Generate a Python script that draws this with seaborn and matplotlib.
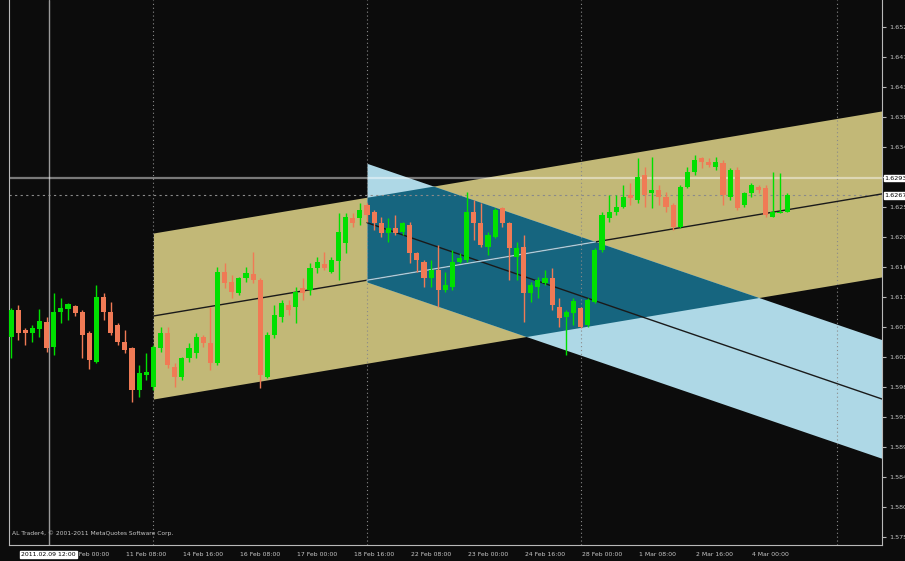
import numpy as np
import pandas as pd
import seaborn as sns
import matplotlib.pyplot as plt
from matplotlib import transforms

# --- dane świec H4 ---
opens = [1.6055, 1.6095, 1.6065, 1.6060, 1.6066, 1.6077, 1.6039, 1.6092, 1.6096, 1.6101,
         1.6092, 1.6060, 1.6017, 1.6114, 1.6092, 1.6072, 1.6047, 1.6038, 1.5975, 1.5997,
         1.5980, 1.6038, 1.6060, 1.6010, 1.5994, 1.6023, 1.6030, 1.6054, 1.6045, 1.6015,
         1.6152, 1.6137, 1.6120, 1.6143, 1.6149, 1.6140, 1.5994, 1.6057, 1.6084, 1.6102,
         1.6099, 1.6128, 1.6125, 1.6158, 1.6164, 1.6152, 1.6168, 1.6195, 1.6233, 1.6233,
         1.6252, 1.6242, 1.6225, 1.6210, 1.6218, 1.6212, 1.6222, 1.6180, 1.6167, 1.6143,
         1.6155, 1.6125, 1.6129, 1.6167, 1.6170, 1.6242, 1.6225, 1.6189, 1.6204, 1.6248,
         1.6225, 1.6174, 1.6189, 1.6120, 1.6129, 1.6135, 1.6143, 1.6099, 1.6084, 1.6090,
         1.6098, 1.6072, 1.6107, 1.6185, 1.6233, 1.6242, 1.6249, 1.6267, 1.6260, 1.6297,
         1.6270, 1.6275, 1.6264, 1.6252, 1.6219, 1.6279, 1.6302, 1.6323, 1.6317, 1.6309,
         1.6315, 1.6264, 1.6305, 1.6252, 1.6270, 1.6279, 1.6278, 1.6234, 1.6240, 1.6242]
highs = [1.6098, 1.6103, 1.6068, 1.6072, 1.6096, 1.6084, 1.6120, 1.6113, 1.6105, 1.6102,
         1.6095, 1.6063, 1.6132, 1.6120, 1.6107, 1.6075, 1.6065, 1.6039, 1.6012, 1.6030,
         1.6043, 1.6069, 1.6069, 1.6015, 1.6024, 1.6045, 1.6060, 1.6057, 1.6099, 1.6159,
         1.6165, 1.6147, 1.6144, 1.6159, 1.6182, 1.6143, 1.6062, 1.6102, 1.6110, 1.6110,
         1.6129, 1.6143, 1.6165, 1.6174, 1.6182, 1.6174, 1.6240, 1.6240, 1.6240, 1.6255,
         1.6255, 1.6245, 1.6234, 1.6233, 1.6237, 1.6227, 1.6227, 1.6182, 1.6170, 1.6170,
         1.6192, 1.6152, 1.6185, 1.6180, 1.6272, 1.6260, 1.6255, 1.6212, 1.6248, 1.6249,
         1.6227, 1.6197, 1.6207, 1.6137, 1.6144, 1.6155, 1.6158, 1.6113, 1.6095, 1.6113,
         1.6099, 1.6113, 1.6188, 1.6242, 1.6267, 1.6267, 1.6282, 1.6285, 1.6323, 1.6309,
         1.6324, 1.6282, 1.6272, 1.6255, 1.6282, 1.6309, 1.6327, 1.6324, 1.6323, 1.6324,
         1.6320, 1.6308, 1.6309, 1.6272, 1.6285, 1.6282, 1.6282, 1.6302, 1.6300, 1.6270]
lows = [1.6023, 1.6050, 1.6043, 1.6047, 1.6054, 1.6032, 1.6027, 1.6075, 1.6080, 1.6086,
        1.6023, 1.6006, 1.6015, 1.6080, 1.6057, 1.6043, 1.6030, 1.5957, 1.5964, 1.5990,
        1.5975, 1.6032, 1.6008, 1.5980, 1.5990, 1.6017, 1.6023, 1.6039, 1.6005, 1.6012,
        1.6128, 1.6113, 1.6117, 1.6137, 1.6135, 1.5978, 1.5993, 1.6053, 1.6077, 1.6087,
        1.6075, 1.6110, 1.6117, 1.6150, 1.6155, 1.6150, 1.6140, 1.6180, 1.6219, 1.6222,
        1.6227, 1.6215, 1.6204, 1.6197, 1.6207, 1.6207, 1.6165, 1.6152, 1.6129, 1.6129,
        1.6099, 1.6122, 1.6125, 1.6165, 1.6167, 1.6200, 1.6189, 1.6177, 1.6203, 1.6219,
        1.6140, 1.6140, 1.6077, 1.6107, 1.6113, 1.6132, 1.6095, 1.6069, 1.6027, 1.6072,
        1.6068, 1.6069, 1.6105, 1.6182, 1.6227, 1.6237, 1.6248, 1.6252, 1.6255, 1.6249,
        1.6248, 1.6252, 1.6242, 1.6215, 1.6218, 1.6278, 1.6297, 1.6308, 1.6309, 1.6305,
        1.6252, 1.6260, 1.6245, 1.6249, 1.6264, 1.6270, 1.6234, 1.6234, 1.6240, 1.6242]
closes = [1.6095, 1.6060, 1.6060, 1.6068, 1.6078, 1.6038, 1.6092, 1.6098, 1.6104, 1.6090,
          1.6057, 1.6020, 1.6114, 1.6092, 1.6060, 1.6047, 1.6035, 1.5975, 1.6000, 1.6002,
          1.6039, 1.6060, 1.6012, 1.5994, 1.6023, 1.6038, 1.6054, 1.6045, 1.6015, 1.6152,
          1.6135, 1.6122, 1.6143, 1.6150, 1.6140, 1.5997, 1.6057, 1.6087, 1.6105, 1.6095,
          1.6122, 1.6120, 1.6158, 1.6167, 1.6158, 1.6170, 1.6212, 1.6234, 1.6225, 1.6245,
          1.6237, 1.6225, 1.6210, 1.6218, 1.6210, 1.6225, 1.6180, 1.6170, 1.6143, 1.6155,
          1.6125, 1.6132, 1.6167, 1.6173, 1.6242, 1.6225, 1.6192, 1.6207, 1.6245, 1.6225,
          1.6188, 1.6188, 1.6120, 1.6132, 1.6140, 1.6143, 1.6102, 1.6083, 1.6092, 1.6108,
          1.6069, 1.6110, 1.6185, 1.6237, 1.6242, 1.6249, 1.6264, 1.6263, 1.6294, 1.6267,
          1.6275, 1.6264, 1.6249, 1.6219, 1.6279, 1.6302, 1.6320, 1.6317, 1.6312, 1.6317,
          1.6267, 1.6305, 1.6248, 1.6270, 1.6282, 1.6275, 1.6237, 1.6242, 1.6242, 1.6267]

# etykiety osi czasu (co 8 świec)
time_ticks = [8, 16, 24, 32, 40, 48, 56, 64, 72, 80, 88, 96, 104]
time_labels = ["10 Feb 00:00", "11 Feb 08:00", "14 Feb 16:00", "16 Feb 08:00",
               "17 Feb 00:00", "18 Feb 16:00", "22 Feb 08:00", "23 Feb 00:00",
               "24 Feb 16:00", "28 Feb 00:00", "1 Mar 08:00", "2 Mar 16:00",
               "4 Mar 00:00"]
price_ticks = [1.6520 - 0.0045 * k for k in range(18)]

# kanały regresji: (start, cena środka na starcie, cena środka na świecy 120, połowa szerokości)
chan_yellow = (20, 1.6086, 1.6265, 0.01245)
chan_blue = (50, 1.6226, 1.5970, 0.0089)

separators = [20, 50, 80, 116]
cross_x, cross_price, cross_label = 5.3, 1.6293, "2011.02.09 12:00"
bid_price = closes[-1]

BG = "#0c0c0c"
BULL, BEAR = "#00e000", "#f07a55"
TAN, LBLUE, TEAL = "#c2b877", "#aed8e6", "#16657f"
XMIN, XMAX = -0.28, 122.33
YMIN, YMAX = 1.57425, 1.6560

sns.set_style("dark", {"axes.facecolor": BG, "figure.facecolor": BG})
plt.rcParams["font.family"] = ["DejaVu Sans"]

fig = plt.figure(figsize=(9.05, 5.61), dpi=100)
ax = fig.add_axes([9 / 905, 16 / 561, 873 / 905, 545 / 561])
ax.set_xlim(XMIN, XMAX)
ax.set_ylim(YMIN, YMAX)


def channel(ch):
    start, p0, p1, half = ch
    xs = np.linspace(start, XMAX, 400)
    mid = p0 + (p1 - p0) * (xs - start) / (120 - start)
    return xs, mid, mid + half, mid - half


xs1, mid1, up1, lo1 = channel(chan_yellow)
xs2, mid2, up2, lo2 = channel(chan_blue)

ax.fill_between(xs1, lo1, up1, color=TAN, lw=0, zorder=1)
ax.fill_between(xs2, lo2, up2, color=LBLUE, lw=0, zorder=1.1)
# część wspólna obu kanałów
_, m1b, u1b, l1b = channel((chan_yellow[0], chan_yellow[1], chan_yellow[2], chan_yellow[3]))
u1i = np.interp(xs2, xs1, up1)
l1i = np.interp(xs2, xs1, lo1)
o_lo = np.maximum(l1i, lo2)
o_hi = np.minimum(u1i, up2)
ax.fill_between(xs2, o_lo, o_hi, where=o_hi > o_lo, color=TEAL, lw=0, zorder=1.2)

# linie środkowe
df1 = pd.DataFrame({"x": xs1, "y": mid1})
df2 = pd.DataFrame({"x": xs2, "y": mid2})
sns.lineplot(data=df1, x="x", y="y", ax=ax, color="#1a1a1a", lw=1, zorder=2)
sns.lineplot(data=df2, x="x", y="y", ax=ax, color="#1a1a1a", lw=1, zorder=2)
mid1i = np.interp(xs2, xs1, mid1)
inside = (mid1i < up2) & (mid1i > lo2)
ax.plot(xs2[inside], mid1i[inside], color="#a9cfe0", lw=1, zorder=2.1)

# separatory okresów i linia bid
for s in separators:
    ax.axvline(s, color="#8a8a8a", lw=0.8, ls=(0, (1, 2.5)), zorder=1.5)
ax.axhline(bid_price, color="#8a8a8a", lw=0.8, ls=(0, (2, 3)), zorder=1.5)

# krzyż celownika
ax.axvline(cross_x, color="#9a9a9a", lw=1, zorder=1.6)
ax.axhline(cross_price, color="white", alpha=0.45, lw=1.6, zorder=1.6)

# świece
idx = np.arange(len(opens))
o = np.array(opens)
c = np.array(closes)
colors = [BULL if cc >= oo else BEAR for oo, cc in zip(o, c)]
ax.vlines(idx, lows, highs, colors=colors, lw=1, zorder=3)
body_h = np.maximum(np.abs(c - o), 0.00008)
ax.bar(idx, body_h, bottom=np.minimum(o, c), width=0.72, color=colors,
       edgecolor="none", zorder=3.1)

# osie
for side in ["top"]:
    ax.spines[side].set_visible(False)
for side in ["left", "right", "bottom"]:
    ax.spines[side].set_visible(True)
    ax.spines[side].set_color("#b8b8b8")
    ax.spines[side].set_linewidth(0.8)
ax.grid(False)
ax.yaxis.tick_right()
ax.set_yticks(price_ticks)
ax.set_yticklabels([f"{p:.4f}" for p in price_ticks])
ax.tick_params(axis="y", colors="#b8b8b8", labelcolor="#c8c8c8", length=3,
               width=0.8, pad=2, labelsize=4.6, direction="out")
ax.set_xticks(time_ticks)
ax.set_xticklabels(time_labels, ha="left")
ax.tick_params(axis="x", colors="#b8b8b8", labelcolor="#c8c8c8", length=3,
               width=0.8, pad=2, labelsize=4.4, direction="out")
for lab in ax.get_xticklabels():
    lab.set_horizontalalignment("left")
    lab.set_transform(lab.get_transform() + transforms.ScaledTranslation(1 / 100, 0, fig.dpi_scale_trans))
ax.set_xlabel("")
ax.set_ylabel("")

# etykiety z tłem (celownik, bid)
ytr = transforms.blended_transform_factory(ax.transAxes, ax.transData)
for p in [cross_price, bid_price]:
    ax.text(1.003, p, f"{p:.4f}", transform=ytr, fontsize=4.6, color="black",
            va="center", ha="left", zorder=10, clip_on=False,
            bbox=dict(boxstyle="square,pad=0.15", fc="white", ec="white"))
xtr = transforms.blended_transform_factory(ax.transData, ax.transAxes)
ax.text(cross_x, -0.017, cross_label, transform=xtr, fontsize=4.4, color="black",
        va="center", ha="center", zorder=10, clip_on=False,
        bbox=dict(boxstyle="square,pad=0.2", fc="white", ec="white"))

ax.text(0.004, 0.022, "AL Trader4, \u00a9 2001-2011 MetaQuotes Software Corp.",
        transform=ax.transAxes, fontsize=4.3, color="#c8c8c8", va="center", zorder=10)

fig.savefig("out.png", dpi=100, facecolor=BG)
plt.close(fig)
